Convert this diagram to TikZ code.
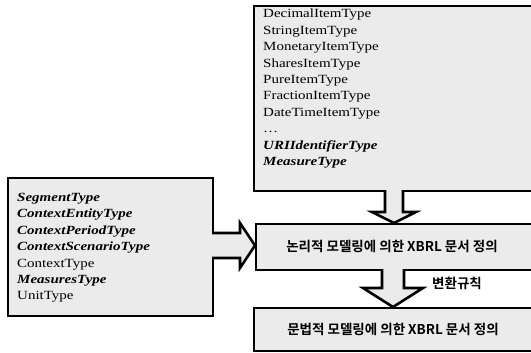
\documentclass[tikz,border=0pt]{standalone}
\usepackage{fontspec}
\setmainfont{Liberation Serif}[FakeStretch=1.2]
\newfontfamily\kr{Noto Sans CJK KR}[BoldFont={Noto Sans CJK KR Bold}]
\definecolor{boxfill}{gray}{0.92}
\begin{document}
\begin{tikzpicture}[x=1pt,y=-1pt,
  box/.style={draw=black, line width=2.4pt, fill=boxfill, rectangle, inner sep=0pt, anchor=north west},
  arrfill/.style={fill=boxfill, draw=none},
  arrline/.style={draw=black, line width=2.6pt, line join=miter},
  typelist/.style={align=left, inner sep=0pt, anchor=north west, font=\fontsize{12.5}{16.4}\selectfont},
  krtext/.style={font=\kr\bfseries\fontsize{13.5}{16}\selectfont, inner sep=0pt}]
\useasboundingbox (0,0) rectangle (531,353);
\begin{scope}
\clip (0,0) rectangle (531,353);
% boxes
\node[box, minimum width=290pt, minimum height=185pt] (top) at (253,5) {};
\node[box, minimum width=205pt, minimum height=138pt] (left) at (7,177) {};
\node[box, minimum width=290pt, minimum height=46pt] (mid) at (255,223) {};
\node[box, minimum width=290pt, minimum height=43pt] (bot) at (253,307) {};
% top arrow
\path[arrfill] (385,186) -- (385,212) -- (372,212) -- (394,223) -- (416,212) -- (403,212) -- (403,186) -- cycle;
\draw[arrline] (385,190) -- (385,212) -- (372,212) -- (394,223) -- (416,212) -- (403,212) -- (403,190);
% left arrow
\path[arrfill] (208,233) -- (240,233) -- (240,223) -- (255,245.5) -- (240,268) -- (240,258) -- (208,258) -- cycle;
\draw[arrline] (212,233) -- (240,233) -- (240,223) -- (255,245.5) -- (240,268) -- (240,258) -- (212,258);
% bottom arrow
\path[arrfill] (382,265) -- (382,288) -- (363,288) -- (393,307) -- (423,288) -- (404,288) -- (404,265) -- cycle;
\draw[arrline] (382,269) -- (382,288) -- (363,288) -- (393,307) -- (423,288) -- (404,288) -- (404,269);
\end{scope}
% texts
\node[typelist] (toptypes) at (263,9) {DecimalItemType\\StringItemType\\MonetaryItemType\\SharesItemType\\PureItemType\\FractionItemType\\DateTimeItemType\\\dots\\\textbf{\textit{URIIdentifierType}}\\\textbf{\textit{MeasureType}}};
\node[typelist] (lefttypes) at (17,193) {\textbf{\textit{SegmentType}}\\\textbf{\textit{ContextEntityType}}\\\textbf{\textit{ContextPeriodType}}\\\textbf{\textit{ContextScenarioType}}\\ContextType\\\textbf{\textit{MeasuresType}}\\UnitType};
\node[krtext] (midtext) at (392,246) {논리적 모델링에 의한 XBRL 문서 정의};
\node[krtext] (bottext) at (393,329) {문법적 모델링에 의한 XBRL 문서 정의};
\node[krtext] (rule) at (457,283) {변환규칙};
\end{tikzpicture}
\end{document}
